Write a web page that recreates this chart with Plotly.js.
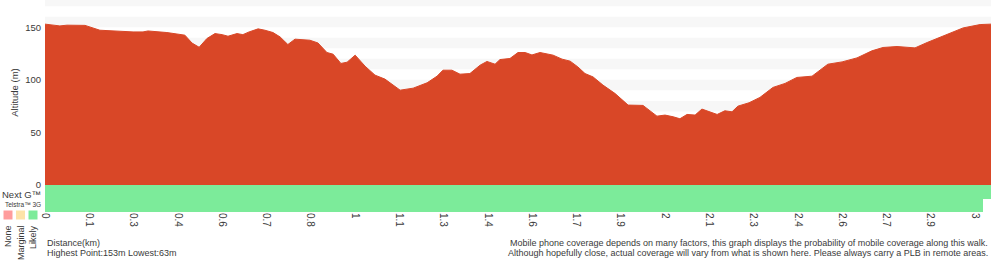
<!DOCTYPE html>
<html><head><meta charset="utf-8">
<script src="https://cdn.plot.ly/plotly-3.0.1.min.js"></script>
<style>html,body{margin:0;padding:0;background:#fff}#chart{width:1000px;height:260px}</style>
</head><body><div id="chart"></div>
<script>
// ---- data ----
const distanceKm = [0,0.048,0.071,0.123,0.129,0.177,0.232,0.284,0.316,0.332,0.393,0.442,0.451,0.474,0.497,0.522,0.548,0.571,0.590,0.619,0.638,0.658,0.687,0.709,0.735,0.758,0.783,0.806,0.854,0.880,0.909,0.929,0.954,0.974,1.000,1.032,1.064,1.096,1.145,1.187,1.232,1.264,1.283,1.312,1.338,1.370,1.403,1.425,1.451,1.467,1.499,1.525,1.548,1.570,1.596,1.638,1.667,1.693,1.718,1.741,1.767,1.799,1.838,1.880,1.928,1.973,1.999,2.025,2.047,2.070,2.096,2.118,2.167,2.192,2.215,2.234,2.270,2.305,2.347,2.386,2.424,2.473,2.524,2.570,2.618,2.666,2.702,2.747,2.805,2.844,2.908,2.960,3.015,3.050];
const altitudeM = [153,151.3,152,152,151.8,147.2,146.2,145.6,145.6,146.5,145,143,142.5,135,131,139.3,144,143,141.5,144,143,145.6,148.5,147.2,145,140.8,133.6,138.7,137.7,135.1,126,124.4,115.6,116.8,123.5,113,104.5,100.7,90.2,92.1,97.2,103.5,109.2,109.2,105.4,106,114,117.5,114.9,119.3,120.3,126,126,123.7,126,123.5,119.7,117.8,112.3,106,102.8,95,87,76,75.7,65.5,66.5,64.9,63,67.1,66.5,72.2,67.1,70.6,69.6,75,78.2,83.3,92.8,96.6,102.3,103.5,114.9,117.1,120.9,127.6,130.8,131.7,130.4,135.5,143,149.4,152.6,153];
const tickLabels = ['0','0.1','0.3','0.4','0.6','0.7','0.8','1','1.1','1.3','1.4','1.6','1.7','1.9','2','2.1','2.3','2.4','2.6','2.7','2.9','3'];
const tickStepKm = 0.14277;
const totalKm = 3.05;
const networks = ['Telstra™ 3G', 'Next G™'];
const coverageEndKm = [3.024, 3.05];
const coverageLevel = ['Likely', 'Likely'];
const levelNames = ['None', 'Marginal', 'Likely'];
const altTicks = [0, 50, 100, 150];
const noteLines = ['Mobile phone coverage depends on many factors, this graph displays the probability of mobile coverage along this walk.',
                   'Although hopefully close, actual coverage will vary from what is shown here. Please always carry a PLB in remote areas.'];

// ---- styles ----
const levelColors = {None: '#ff9c9c', Marginal: '#fde3a8', Likely: '#7ceb9a'};
const RED = '#d94727';
const TXT = '#3a3a3a';
const FONT = 'Liberation Sans, Arial, sans-serif';
const L = 45, R = 9, B = 48, H = 260, W = 1000;
const plotW = W - L - R, plotH = H - B;
const px = v => (v - L) / plotW;
const py = v => (plotH - v) / plotH;
const covDomain = 27 / plotH;

const maxAlt = Math.max(...altitudeM), minAlt = Math.min(...altitudeM);

const traces = [{
  type: 'scatter', mode: 'lines', x: distanceKm, y: altitudeM,
  fill: 'tozeroy', fillcolor: RED, line: {color: RED, width: 1},
  xaxis: 'x', yaxis: 'y', hoverinfo: 'skip', showlegend: false
}, {
  type: 'bar', orientation: 'h', y: networks, x: coverageEndKm, base: 0, width: 1,
  marker: {color: coverageLevel.map(l => levelColors[l]), line: {width: 0}},
  xaxis: 'x', yaxis: 'y2', hoverinfo: 'skip', showlegend: false
}];

const shapes = [];
for (let v = 10; v < 180; v += 20) {
  shapes.push({type: 'rect', xref: 'x', yref: 'y', x0: 0, x1: totalKm, y0: v, y1: v + 10,
    fillcolor: '#f7f7f7', line: {width: 0}, layer: 'below'});
}
levelNames.forEach((n, i) => {
  const x0 = 3.5 + i * 12.5;
  shapes.push({type: 'rect', xref: 'paper', yref: 'paper', x0: px(x0), x1: px(x0 + 9),
    y0: py(219.5), y1: py(210.5), fillcolor: levelColors[n], line: {width: 0}});
});

const annotations = [];
annotations.push({xref: 'paper', yref: 'paper', x: px(0), y: py(194), xanchor: 'left', yanchor: 'middle',
  text: 'Next G™', showarrow: false, font: {family: FONT, size: 9.5, color: TXT}});
annotations.push({xref: 'paper', yref: 'paper', x: px(3), y: py(204.5), xanchor: 'left', yanchor: 'middle',
  text: 'Telstra™ 3G', showarrow: false, font: {family: FONT, size: 6.5, color: TXT}});
levelNames.forEach((n, i) => {
  annotations.push({xref: 'paper', yref: 'paper', x: px(8 + i * 12.5), y: py(223), xanchor: 'center', yanchor: 'top',
    text: n, textangle: -90, showarrow: false, font: {family: FONT, size: 9, color: TXT}});
});
annotations.push({xref: 'paper', yref: 'paper', x: px(45), y: py(243), xanchor: 'left', yanchor: 'middle',
  text: 'Distance(km)', showarrow: false, font: {family: FONT, size: 9, color: TXT}});
annotations.push({xref: 'paper', yref: 'paper', x: px(45), y: py(252.5), xanchor: 'left', yanchor: 'middle',
  text: 'Highest Point:' + maxAlt + 'm Lowest:' + minAlt + 'm', showarrow: false, font: {family: FONT, size: 9, color: TXT}});
noteLines.forEach((t, i) => {
  annotations.push({xref: 'paper', yref: 'paper', x: px(990), y: py(243 + i * 9.5), xanchor: 'right', yanchor: 'middle',
    text: t, showarrow: false, font: {family: FONT, size: 9, color: TXT}});
});

const layout = {
  width: W, height: H, margin: {l: L, r: R, t: 0, b: B},
  paper_bgcolor: '#fff', plot_bgcolor: '#fff', showlegend: false,
  font: {family: FONT, color: TXT},
  xaxis: {range: [0, totalKm], anchor: 'y2', tickmode: 'array',
    tickvals: tickLabels.map((_, i) => i * tickStepKm), ticktext: tickLabels,
    tickangle: 90, ticks: '', showgrid: false, zeroline: false, showline: false,
    tickfont: {family: FONT, size: 10, color: TXT}, fixedrange: true},
  yaxis: {domain: [covDomain, 1], range: [0, maxAlt * 1.15], anchor: 'x', tickmode: 'array', tickvals: altTicks,
    ticks: '', showgrid: false, zeroline: false, showline: false, ticklabelstandoff: 3,
    tickfont: {family: FONT, size: 9.5, color: TXT},
    title: {text: 'Altitude (m)', font: {family: FONT, size: 9.5, color: TXT}, standoff: 4}},
  yaxis2: {domain: [0, covDomain], anchor: 'x', type: 'category', categoryorder: 'array', categoryarray: networks,
    range: [-0.5, 1.5], showticklabels: false, showgrid: false, zeroline: false, ticks: ''},
  bargap: 0, shapes: shapes, annotations: annotations
};

Plotly.newPlot('chart', traces, layout, {staticPlot: true, displayModeBar: false});
</script>
</body></html>
